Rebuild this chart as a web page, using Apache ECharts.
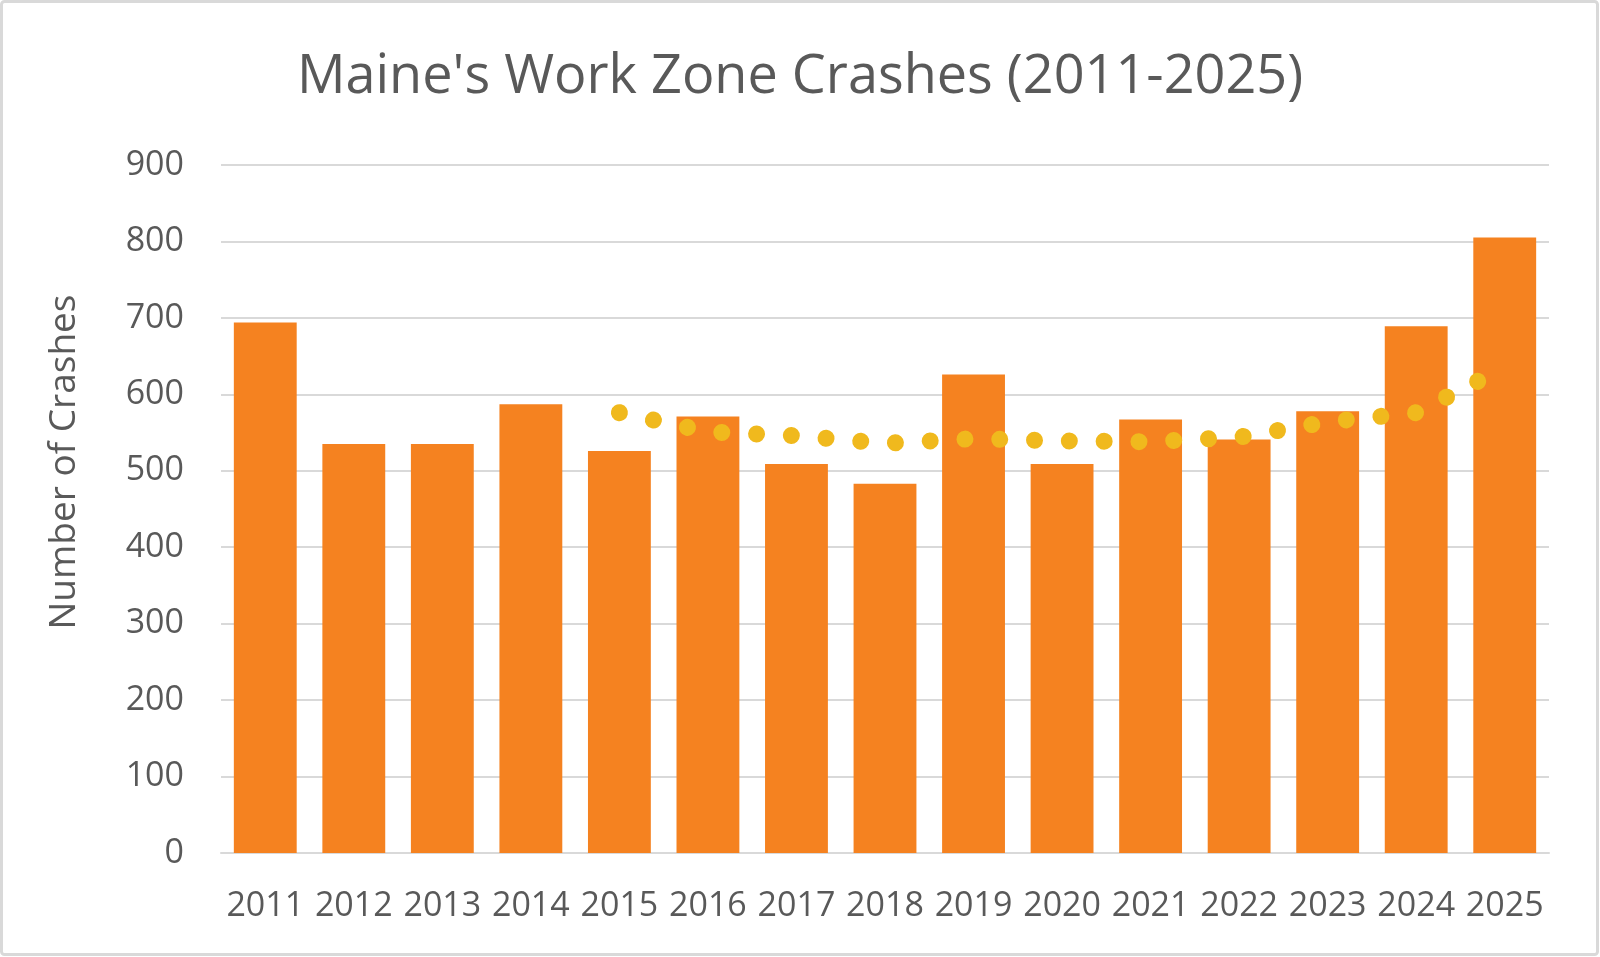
<!doctype html>
<html>
<head>
<meta charset="utf-8">
<title>Maine's Work Zone Crashes</title>
<script src="https://cdn.jsdelivr.net/npm/echarts@6/dist/echarts.min.js"></script>
<style type="text/css">
	html, body{margin:0; padding:0; background:#fff;}
	#chart{width:1600px; height:957px;}
</style>
</head>
<body>
<div id="chart"></div>
<script type="text/javascript">
// data
var years = ['2011', '2012', '2013', '2014', '2015', '2016', '2017', '2018', '2019', '2020', '2021', '2022', '2023', '2024', '2025'];
var crashes = [694, 535, 535, 587, 526, 571, 509, 483, 626, 509, 567, 541, 578, 689, 805];
// dotted trend line (starts at 2015)
var trend = [null, null, null, null, 576, 551, 546, 536, 542, 539, 538, 544, 564, 576, 635];
var yTicks = [0, 100, 200, 300, 400, 500, 600, 700, 800, 900];

var font = '"Open Sans", "Noto Sans", sans-serif';
var grey = '#595959';

var chart = echarts.init(document.getElementById('chart'));
var option = {
	backgroundColor: '#fff',
	animation: false,
	title: {
		text: "Maine's Work Zone Crashes (2011-2025)",
		left: 'center',
		top: 46,
		textStyle: {
			fontFamily: font,
			fontSize: 54,
			fontWeight: 'normal',
			color: grey
		}
	},
	graphic: [
		{ // outer border
			type: 'rect',
			shape: {x: 1.5, y: 1.5, width: 1596, height: 953, r: 3},
			style: {fill: 'none', stroke: '#d9d9d9', lineWidth: 3},
			silent: true
		},
		{ // y axis title
			type: 'text',
			x: 64,
			y: 462,
			rotation: Math.PI / 2,
			style: {
				text: 'Number of Crashes',
				fontFamily: font,
				fontSize: 37,
				fill: grey,
				textAlign: 'center',
				textVerticalAlign: 'middle'
			}
		}
	],
	grid: {
		left: 221,
		right: 51,
		top: 165,
		bottom: 104,
		containLabel: false
	},
	xAxis: {
		type: 'category',
		data: years,
		axisTick: {show: false},
		axisLine: {lineStyle: {color: '#d9d9d9', width: 2}},
		axisLabel: {
			interval: 0,
			margin: 36,
			fontFamily: font,
			fontSize: 34,
			color: grey
		}
	},
	yAxis: {
		type: 'value',
		min: yTicks[0],
		max: yTicks[yTicks.length - 1],
		interval: 100,
		axisLine: {show: false},
		axisTick: {show: false},
		axisLabel: {
			margin: 37,
			fontFamily: font,
			fontSize: 34,
			color: grey
		},
		splitLine: {lineStyle: {color: '#d9d9d9', width: 2}}
	},
	series: [
		{
			name: 'Crashes',
			type: 'bar',
			data: crashes,
			barCategoryGap: '29%',
			itemStyle: {color: '#f58220'}
		},
		{
			name: 'Trend',
			type: 'line',
			data: trend,
			symbol: 'none',
			connectNulls: false,
			z: 5,
			lineStyle: {
				color: '#f0b91d',
				width: 17,
				type: [0.01, 34.8],
				cap: 'round'
			}
		}
	]
};
chart.setOption(option);
</script>
</body>
</html>
